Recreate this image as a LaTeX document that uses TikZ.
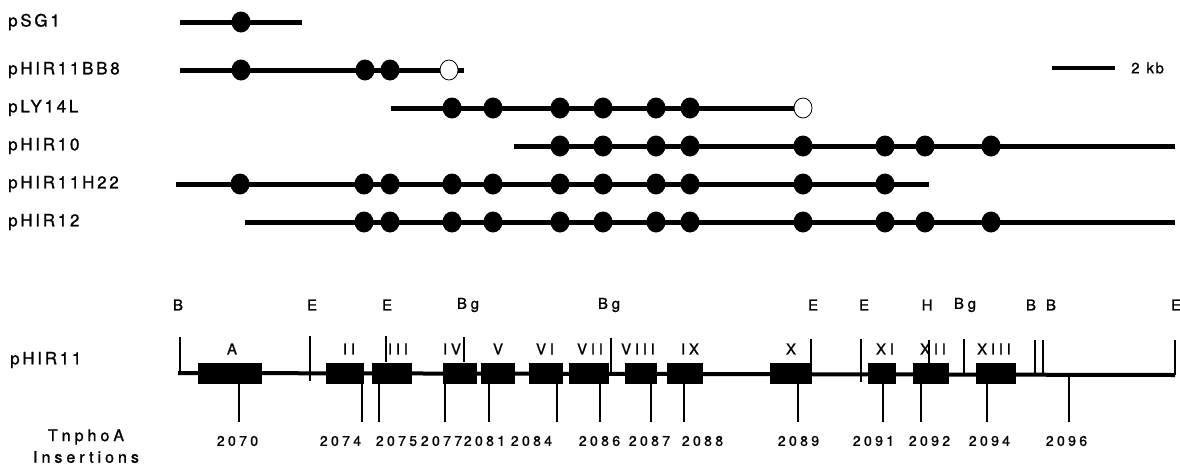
\documentclass[tikz,border=0pt]{standalone}
\usepackage{fontspec}
\setmainfont{TeX Gyre Heros}
\newfontfamily\rowf[LetterSpace=16,FakeBold=1.2]{TeX Gyre Heros}
\newfontfamily\genef[LetterSpace=25,FakeBold=1.2]{TeX Gyre Heros}
\newfontfamily\numf[LetterSpace=24,FakeBold=1.2]{TeX Gyre Heros}
\newfontfamily\insf[LetterSpace=25,FakeBold=1.2]{TeX Gyre Heros}
\newfontfamily\kbf[FakeBold=1.2]{TeX Gyre Heros}
\usetikzlibrary{shapes.geometric}
\tikzset{
  clone/.style={line width=5pt},
  dot/.style={ellipse, fill=black, minimum width=19pt, minimum height=21pt, inner sep=0pt},
  odot/.style={ellipse, draw=black, fill=white, line width=0.8pt, minimum width=18pt, minimum height=20pt, inner sep=0pt},
  rowlab/.style={anchor=west, inner sep=0pt, font=\fontsize{17pt}{19pt}\rowf},
  gene/.style={inner sep=0pt, font=\fontsize{15pt}{17pt}\genef},
  site/.style={inner sep=0pt, font=\fontsize{15pt}{17pt}\genef},
  num/.style={inner sep=0pt, font=\fontsize{14pt}{16pt}\numf},
  ins/.style={inner sep=0pt, font=\fontsize{16pt}{18pt}\insf},
  tick/.style={line width=1.1pt},
  gbox/.style={rectangle, fill=black, minimum height=21pt, inner sep=0pt},
  mainline/.style={line width=4pt},
}
\begin{document}
\begin{tikzpicture}[x=1pt,y=-1pt]
\useasboundingbox (0,0) rectangle (1180,464);
% ---------- clones ----------
\node[rowlab] (L1) at (8,22) {pSG1};
\node[rowlab] (L2) at (8,70) {pHIR11BB8};
\node[rowlab] (L3) at (8,108) {pLY14L};
\node[rowlab] (L4) at (8,146) {pHIR10};
\node[rowlab] (L5) at (8,184) {pHIR11H22};
\node[rowlab] (L6) at (8,222) {pHIR12};

\coordinate (r1a) at (180,22);  \coordinate (r1b) at (302,22);
\coordinate (r2a) at (180,70);  \coordinate (r2b) at (464,70);
\coordinate (r3a) at (391,108); \coordinate (r3b) at (800,108);
\coordinate (r4a) at (514,146); \coordinate (r4b) at (1175,146);
\coordinate (r5a) at (176,184); \coordinate (r5b) at (929,184);
\coordinate (r6a) at (245,222); \coordinate (r6b) at (1175,222);
\foreach \r in {1,...,6} \draw[clone] (r\r a) -- (r\r b);

\foreach \x [count=\i] in {241} \node[dot] (d1-\i) at (\x,22) {};
\foreach \x [count=\i] in {241,365,390} \node[dot] (d2-\i) at (\x,70) {};
\node[odot] (o2) at (449,70) {};
\foreach \x [count=\i] in {452,493,560,603,656,690} \node[dot] (d3-\i) at (\x,108) {};
\node[odot] (o3) at (803,108) {};
\foreach \x [count=\i] in {560,603,656,690,803,885,925,991} \node[dot] (d4-\i) at (\x,146) {};
\foreach \x [count=\i] in {240,364,390,452,493,560,603,656,690,803,885} \node[dot] (d5-\i) at (\x,184) {};
\foreach \x [count=\i] in {364,390,452,493,560,603,656,690,803,885,925,991} \node[dot] (d6-\i) at (\x,222) {};

% scale bar
\coordinate (sba) at (1052,68); \coordinate (sbb) at (1115,68);
\draw[line width=4pt] (sba) -- (sbb);
\node[anchor=west, inner sep=0pt, font=\fontsize{15pt}{17pt}\kbf] (kb) at (1131,68) {2\hspace{7pt}k\hspace{1.5pt}b};

% ---------- pHIR11 map ----------
\node[rowlab] (L7) at (10,360) {pHIR11};
\coordinate (ma) at (178,373); \coordinate (mb) at (1175,375);
\draw[mainline] (ma) -- (mb);

\foreach \l/\lx/\x/\t/\bt [count=\i] in {B/176/180/337/373, E/310/310/336/381, E/385/386/336/362, Bg/466/464/337/362, Bg/607/611/338/373, E/811/811/339/363, E/862/861/339/382, H/925/929/340/364, Bg/963/964/339/374, B/1029/1035/340/375, B/1049/1043/340/375, E/1174/1175/340/375}{
  \node[site] (s\i) at (\lx+2,305) {\l};
  \draw[tick] (\x,\t) coordinate (st\i) -- (\x,\bt) coordinate (sb\i);
}

\foreach \n/\a/\b in {A/198/262, II/326/364, III/372/412, IV/443/477, V/481/515, VI/529/563, VII/569/609, VIII/625/657, IX/667/703, X/770/812, XI/868/896, XII/913/949, XIII/976/1016}{
  \pgfmathsetmacro\w{\b-\a}
  \pgfmathsetmacro\c{(\a+\b)/2}
  \node[gbox, minimum width=\w pt] (box\n) at (\c,373) {};
}
\foreach \n/\x in {A/230, II/347, III/396, IV/450, V/496, VI/543, VII/588, VIII/636, IX/688, X/789, XI/883, XII/931, XIII/992}
  \node[gene] (lab\n) at (\x+2,349) {\n};

\foreach \n/\x/\t/\nx in {2070/239/383/236, 2074/362/383/339, 2075/379/383/395, 2077/445/383/440, 2081/489/383/483, 2084/557/383/530, 2086/600/383/598, 2087/651/383/648, 2088/684/383/701, 2089/798/383/797, 2091/883/384/872, 2092/921/384/928, 2094/987/384/988, 2096/1069/376/1065}{
  \draw[tick] (\x,\t) coordinate (it\n) -- (\x,422) coordinate (ib\n);
  \node[num] (n\n) at (\nx+1.5,441) {\n};
}

\node[ins] (tn) at (86,437) {TnphoA};
\node[ins] (insr) at (86,457) {Insertions};
\end{tikzpicture}
\end{document}
